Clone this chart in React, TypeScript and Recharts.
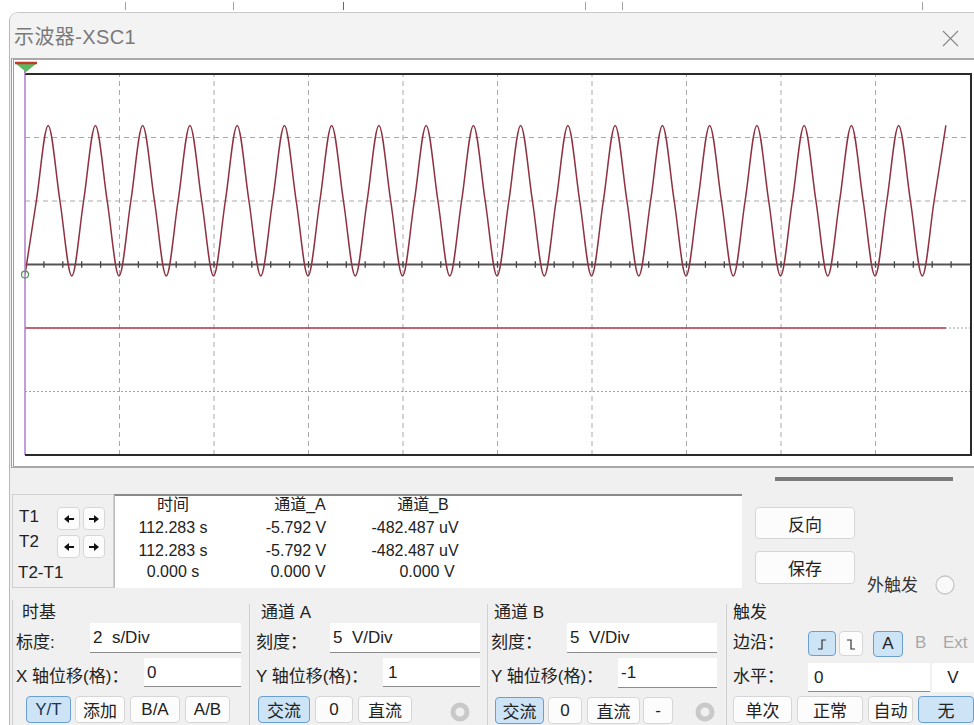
import React from 'react';
import { LineChart, Line, XAxis, YAxis, ReferenceLine, ReferenceDot } from 'recharts';

// Channel A trace (V), read at rising crossings, peaks, falling crossings and troughs
const A_TIMES = [
  0, 0.24, 0.49, 0.74, 0.99, 1.24, 1.49, 1.74, 1.99, 2.24, 2.49, 2.74, 2.99, 3.24, 3.49, 3.74, 3.99,
  4.24, 4.49, 4.74, 4.99, 5.24, 5.49, 5.74, 5.99, 6.24, 6.49, 6.74, 6.99, 7.24, 7.49, 7.74, 7.99,
  8.24, 8.49, 8.74, 8.99, 9.24, 9.49, 9.74, 9.99, 10.24, 10.49, 10.74, 10.99, 11.24, 11.49, 11.74, 11.99,
  12.24, 12.49, 12.74, 12.99, 13.24, 13.49, 13.74, 13.99, 14.24, 14.49, 14.74, 14.99, 15.24, 15.49, 15.74, 15.99,
  16.24, 16.49, 16.74, 16.99, 17.24, 17.49, 17.74, 17.99, 18.24, 18.49, 18.74, 18.99, 19.24, 19.49,
];
const A_VALUES = [
  -5.79, 0, 5.95, 0, -5.9, 0, 5.95, 0, -5.9, 0, 5.95, 0, -5.9, 0, 5.95, 0, -5.9,
  0, 5.95, 0, -5.9, 0, 5.95, 0, -5.9, 0, 5.95, 0, -5.9, 0, 5.95, 0, -5.9,
  0, 5.95, 0, -5.9, 0, 5.95, 0, -5.9, 0, 5.95, 0, -5.9, 0, 5.95, 0, -5.9,
  0, 5.95, 0, -5.9, 0, 5.95, 0, -5.9, 0, 5.95, 0, -5.9, 0, 5.95, 0, -5.9,
  0, 5.95, 0, -5.9, 0, 5.95, 0, -5.9, 0, 5.95, 0, -5.9, 0, 5.95,
];
// Channel B trace (V)
const B_TIMES = [0, 19.49];
const B_VALUES = [-0.000482, -0.000482];

// screen divisions (2 s/Div, 10 div) and channel A grid levels (5 V/Div, offset +1)
const GRID_TIMES = [2, 4, 6, 8, 10, 12, 14, 16, 18];
const GRID_A_DASHED = [5, 0];
const GRID_A_DOTTED = [-10, -15];
const CENTER_A = -5;
const AXIS_TICKS = [
  0.4, 0.8, 1.2, 1.6, 2, 2.4, 2.8, 3.2, 3.6, 4, 4.4, 4.8, 5.2, 5.6, 6, 6.4, 6.8, 7.2, 7.6, 8,
  8.4, 8.8, 9.2, 9.6, 10, 10.4, 10.8, 11.2, 11.6, 12, 12.4, 12.8, 13.2, 13.6, 14, 14.4, 14.8,
  15.2, 15.6, 16, 16.4, 16.8, 17.2, 17.6, 18, 18.4, 18.8, 19.2, 19.6,
];
const CURSOR_A = -5.792;

const READ_HEAD = ['时间', '通道_A', '通道_B'];
const READ_T1 = ['112.283 s', '-5.792 V', '-482.487 uV'];
const READ_T2 = ['112.283 s', '-5.792 V', '-482.487 uV'];
const READ_D = ['0.000 s', '0.000 V', '0.000 V'];

const aData = A_TIMES.map((t, i) => ({ t, v: A_VALUES[i] }));
const bData = B_TIMES.map((t, i) => ({ t, v: B_VALUES[i] }));

const FONT = "'Liberation Sans', 'Noto Sans CJK SC', sans-serif";

const Txt = ({ x, y, size = 17, color = '#222', children, w, align, ls }: any) => (
  <div
    style={{
      position: 'absolute',
      left: x,
      top: y - size * 0.7,
      height: size * 1.4,
      lineHeight: `${size * 1.4}px`,
      fontSize: size,
      color,
      whiteSpace: 'nowrap',
      width: w,
      textAlign: align || 'left',
      letterSpacing: ls,
    }}
  >
    {children}
  </div>
);

const Box = ({ x, y, w, h, style, children }: any) => (
  <div
    style={{
      position: 'absolute',
      left: x,
      top: y,
      width: w,
      height: h,
      boxSizing: 'border-box',
      ...style,
    }}
  >
    {children}
  </div>
);

const Btn = ({ x, y, w, h = 27, sel = false, color = '#222', size = 17, children }: any) => (
  <Box
    x={x}
    y={y}
    w={w}
    h={h}
    style={{
      background: sel ? '#cde3f6' : '#fcfcfc',
      border: sel ? '1px solid #6b9fd0' : '1px solid #d6d6d6',
      borderRadius: 4,
      display: 'flex',
      alignItems: 'center',
      justifyContent: 'center',
      fontSize: size,
      color,
    }}
  >
    {children}
  </Box>
);

const Input = ({ x, y, w, h, text, pad = 3 }: any) => (
  <Box
    x={x}
    y={y}
    w={w}
    h={h}
    style={{
      background: '#fff',
      borderBottom: '1px solid #8c8c8c',
      fontSize: 17,
      lineHeight: `${h}px`,
      paddingLeft: pad,
      whiteSpace: 'pre',
      color: '#222',
    }}
  >
    {text}
  </Box>
);

const Ring = ({ x, y }: any) => (
  <svg style={{ position: 'absolute', left: x - 11, top: y - 11 }} width={22} height={22}>
    <circle cx={11} cy={11} r={7} fill="none" stroke="#c9c9c9" strokeWidth={5} />
  </svg>
);

const Arrow = ({ dir }: any) => (
  <svg width={12} height={10}>
    {dir < 0 ? (
      <g fill="#111">
        <polygon points="1,5 6,1 6,9" />
        <rect x={5} y={4} width={6} height={2} />
      </g>
    ) : (
      <g fill="#111">
        <polygon points="11,5 6,1 6,9" />
        <rect x={1} y={4} width={6} height={2} />
      </g>
    )}
  </svg>
);

export default function App() {
  return (
    <div
      style={{
        position: 'absolute',
        left: 0,
        top: 0,
        width: 974,
        height: 725,
        overflow: 'hidden',
        background: '#fff',
        fontFamily: FONT,
      }}
    >
      {/* background ticks above the window */}
      {[125, 233, 585, 622, 922].map((x) => (
        <Box key={x} x={x} y={2} w={1} h={8} style={{ background: '#a0a0a0' }} />
      ))}
      <Box x={343} y={2} w={1} h={8} style={{ background: '#c0404a' }} />

      {/* window */}
      <Box
        x={9}
        y={12}
        w={970}
        h={720}
        style={{
          background: '#f0f0f0',
          borderTop: '1px solid #c8c8c8',
          borderLeft: '1px solid #b8b8b8',
          borderTopLeftRadius: 9,
        }}
      />
      <Box x={10} y={13} w={964} h={46} style={{ background: '#f3f3f3', borderTopLeftRadius: 8 }} />
      <Txt x={14} y={37} size={20} color="#7a7a7a" ls={0.4}>示波器-XSC1</Txt>
      <svg style={{ position: 'absolute', left: 942, top: 30 }} width={17} height={17}>
        <line x1={1} y1={1} x2={16} y2={16} stroke="#888" strokeWidth={1.1} />
        <line x1={16} y1={1} x2={1} y2={16} stroke="#888" strokeWidth={1.1} />
      </svg>

      {/* scope screen frame */}
      <Box
        x={11}
        y={58}
        w={970}
        h={410}
        style={{
          background: '#fff',
          borderTop: '2px solid #a8a8a8',
          borderLeft: '3px double #9c9c9c',
          borderBottom: '2px solid #a8a8a8',
        }}
      />

      <div style={{ position: 'absolute', left: 15, top: 60 }}>
        <LineChart width={958} height={405} margin={{ top: 14, right: 3, bottom: 10, left: 10 }}>
          <XAxis type="number" dataKey="t" domain={[0, 20]} hide allowDataOverflow />
          <YAxis yAxisId="A" type="number" domain={[-20, 10]} hide allowDataOverflow />
          <YAxis yAxisId="B" type="number" domain={[-10, 20]} hide allowDataOverflow />
          {GRID_TIMES.map((t) => (
            <ReferenceLine key={'gx' + t} yAxisId="A" x={t} stroke="#a9a9a9" strokeDasharray="5 4" />
          ))}
          {GRID_A_DASHED.map((v) => (
            <ReferenceLine key={'gd' + v} yAxisId="A" y={v} stroke="#a9a9a9" strokeDasharray="5 4" />
          ))}
          {GRID_A_DOTTED.map((v) => (
            <ReferenceLine key={'gt' + v} yAxisId="A" y={v} stroke="#a0a0a0" strokeDasharray="2 2" />
          ))}
          <ReferenceLine yAxisId="A" y={CENTER_A} stroke="#555" strokeWidth={2} />
          {AXIS_TICKS.map((t) => (
            <ReferenceLine
              key={'tk' + t}
              yAxisId="A"
              segment={[
                { x: t, y: CENTER_A - 0.26 },
                { x: t, y: CENTER_A + 0.26 },
              ]}
              stroke="#444"
              strokeWidth={1.3}
            />
          ))}
          <Line
            data={bData}
            dataKey="v"
            yAxisId="B"
            type="linear"
            dot={false}
            stroke="#b23a4a"
            strokeWidth={1.6}
            isAnimationActive={false}
          />
          <Line
            data={aData}
            dataKey="v"
            yAxisId="A"
            type="monotone"
            dot={false}
            stroke="#8e3140"
            strokeWidth={1.5}
            isAnimationActive={false}
          />
          <ReferenceLine yAxisId="A" x={0} stroke="#b585cc" strokeWidth={1.6} />
          <ReferenceDot
            yAxisId="A"
            x={0}
            y={CURSOR_A}
            r={3.5}
            fill="none"
            stroke="#4a9a55"
            strokeWidth={1.2}
          />
        </LineChart>
      </div>
      {/* plot frame and cursor marker */}
      <Box
        x={25}
        y={73}
        w={947}
        h={383}
        style={{
          borderTop: '2px solid #2a2a2a',
          borderRight: '2px solid #2a2a2a',
          borderBottom: '2px solid #2a2a2a',
          pointerEvents: 'none',
        }}
      />
      <Box x={24} y={62} w={2} h={12} style={{ background: '#b585cc' }} />
      <svg style={{ position: 'absolute', left: 14, top: 61 }} width={24} height={12}>
        <polygon points="1,2 23,2 12,11" fill="#5cb860" />
        <line x1={1} y1={2} x2={23} y2={2} stroke="#c0392b" strokeWidth={2.5} />
      </svg>

      {/* bar */}
      <Box x={775} y={477} w={178} h={4} style={{ background: '#7a7a7a' }} />

      {/* readout */}
      <Box x={12} y={494} w={102} h={94} style={{ background: '#f0f0f0', border: '1px solid #cfcfcf' }} />
      <Txt x={19} y={517} size={17}>T1</Txt>
      <Txt x={19} y={542} size={17}>T2</Txt>
      <Txt x={18} y={573} size={17}>T2-T1</Txt>
      {[507, 535].map((y) => (
        <React.Fragment key={y}>
          <Btn x={57} y={y} w={23} h={23}><Arrow dir={-1} /></Btn>
          <Btn x={83} y={y} w={22} h={23}><Arrow dir={1} /></Btn>
        </React.Fragment>
      ))}
      <Box
        x={114}
        y={494}
        w={628}
        h={94}
        style={{ background: '#fff', borderTop: '2px solid #8a8a8a', borderLeft: '1px solid #bbb' }}
      />
      <Txt x={113} y={505} size={16} w={120} align="center">{READ_HEAD[0]}</Txt>
      <Txt x={240} y={505} size={16} w={120} align="center">{READ_HEAD[1]}</Txt>
      <Txt x={363} y={505} size={16} w={120} align="center">{READ_HEAD[2]}</Txt>
      <Txt x={113} y={528} size={16} w={120} align="center">{READ_T1[0]}</Txt>
      <Txt x={236} y={528} size={16} w={120} align="center">{READ_T1[1]}</Txt>
      <Txt x={355} y={528} size={16} w={120} align="center">{READ_T1[2]}</Txt>
      <Txt x={113} y={551} size={16} w={120} align="center">{READ_T2[0]}</Txt>
      <Txt x={236} y={551} size={16} w={120} align="center">{READ_T2[1]}</Txt>
      <Txt x={355} y={551} size={16} w={120} align="center">{READ_T2[2]}</Txt>
      <Txt x={113} y={572} size={16} w={120} align="center">{READ_D[0]}</Txt>
      <Txt x={238} y={572} size={16} w={120} align="center">{READ_D[1]}</Txt>
      <Txt x={367} y={572} size={16} w={120} align="center">{READ_D[2]}</Txt>

      <Btn x={755} y={507} w={100} h={32}>反向</Btn>
      <Btn x={755} y={551} w={100} h={33}>保存</Btn>
      <Txt x={867} y={586} size={17} color="#333">外触发</Txt>
      <svg style={{ position: 'absolute', left: 934, top: 574 }} width={22} height={22}>
        <circle cx={11} cy={11} r={9} fill="#f9f9f9" stroke="#c6c6c6" strokeWidth={1.3} />
      </svg>

      {/* group separators */}
      <Box x={12} y={600} w={1} h={125} style={{ background: '#d0d0d0' }} />
      <Box x={249} y={604} w={1} h={121} style={{ background: '#d0d0d0' }} />
      <Box x={487} y={604} w={1} h={121} style={{ background: '#d0d0d0' }} />
      <Box x={726} y={604} w={1} h={121} style={{ background: '#d0d0d0' }} />

      {/* time base */}
      <Txt x={22} y={613}>时基</Txt>
      <Txt x={16} y={643}>标度:</Txt>
      <Input x={90} y={623} w={151} h={30} text="2  s/Div" />
      <Txt x={16} y={677}>X 轴位移(格)：</Txt>
      <Input x={144} y={658} w={97} h={29} text="0" />
      <Btn x={26} y={696} w={45} sel color="#1d3557">Y/T</Btn>
      <Btn x={75} y={696} w={50}>添加</Btn>
      <Btn x={130} y={696} w={50}>B/A</Btn>
      <Btn x={185} y={696} w={45}>A/B</Btn>

      {/* channel A */}
      <Txt x={261} y={613}>通道 A</Txt>
      <Txt x={256} y={643}>刻度：</Txt>
      <Input x={330} y={623} w={150} h={30} text="5  V/Div" />
      <Txt x={256} y={677}>Y 轴位移(格)：</Txt>
      <Input x={383} y={658} w={97} h={29} text="1" pad={5} />
      <Btn x={258} y={696} w={52} sel>交流</Btn>
      <Btn x={315} y={696} w={38}>0</Btn>
      <Btn x={358} y={696} w={54}>直流</Btn>
      <Ring x={460} y={712} />

      {/* channel B */}
      <Txt x={494} y={613}>通道 B</Txt>
      <Txt x={491} y={643}>刻度：</Txt>
      <Input x={567} y={623} w={150} h={30} text="5  V/Div" />
      <Txt x={491} y={677}>Y 轴位移(格)：</Txt>
      <Input x={618} y={658} w={99} h={30} text="-1" />
      <Btn x={495} y={697} w={49} sel>交流</Btn>
      <Btn x={548} y={697} w={34}>0</Btn>
      <Btn x={587} y={697} w={53}>直流</Btn>
      <Btn x={643} y={697} w={30}>-</Btn>
      <Ring x={705} y={712} />

      {/* trigger */}
      <Txt x={733} y={613}>触发</Txt>
      <Txt x={733} y={643}>边沿：</Txt>
      <Btn x={808} y={631} w={28} h={25} sel>
        <svg width={14} height={14}>
          <polyline points="3,12 7,12 7,3 11,3" fill="none" stroke="#333" strokeWidth={1.2} />
        </svg>
      </Btn>
      <Btn x={839} y={631} w={24} h={25}>
        <svg width={14} height={14}>
          <polyline points="3,3 7,3 7,12 11,12" fill="none" stroke="#333" strokeWidth={1.2} />
        </svg>
      </Btn>
      <Btn x={873} y={631} w={30} h={26} sel>A</Btn>
      <Txt x={915} y={643} color="#a8a8a8">B</Txt>
      <Txt x={943} y={643} color="#a8a8a8">Ext</Txt>
      <Txt x={733} y={677}>水平：</Txt>
      <Input x={808} y={663} w={122} h={29} text="0" pad={6} />
      <Box
        x={932}
        y={663}
        w={42}
        h={29}
        style={{ background: '#fff', fontSize: 17, lineHeight: '29px', textAlign: 'center', color: '#222' }}
      >
        V
      </Box>
      <Btn x={733} y={696} w={59}>单次</Btn>
      <Btn x={797} y={696} w={66}>正常</Btn>
      <Btn x={868} y={696} w={45}>自动</Btn>
      <Btn x={918} y={696} w={56} sel>无</Btn>
    </div>
  );
}
